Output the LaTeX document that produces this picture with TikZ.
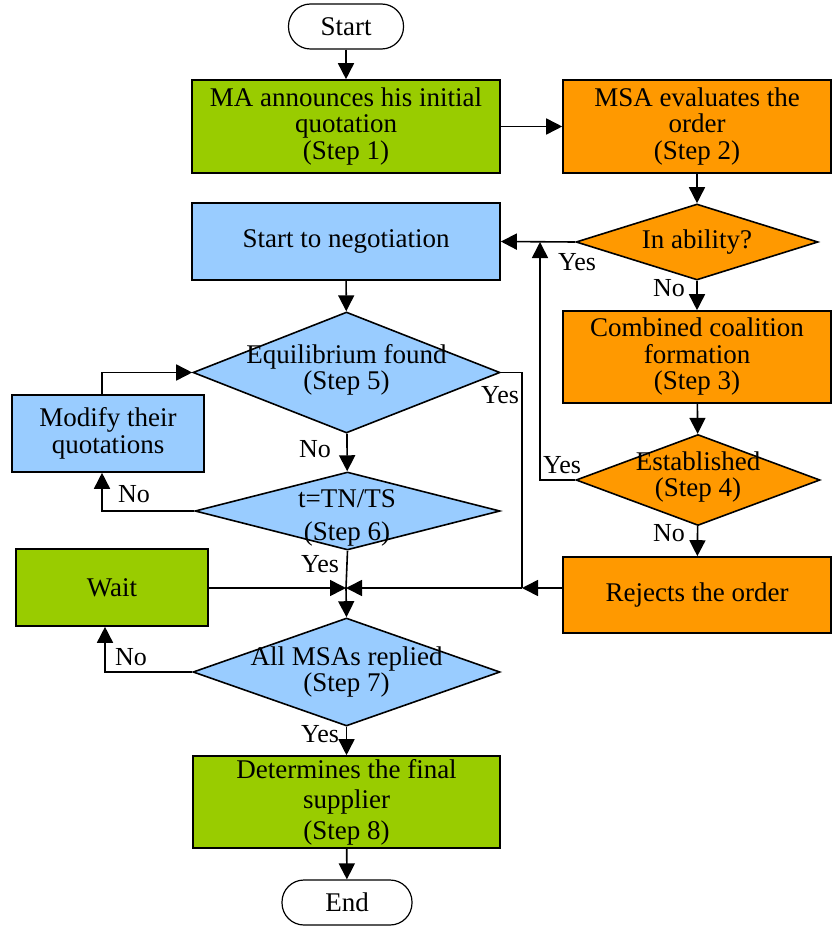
\documentclass[tikz,border=0pt]{standalone}
\usepackage{fontspec}
\setmainfont{Liberation Serif}
\usetikzlibrary{arrows.meta,shapes.geometric}

\definecolor{stepgreen}{HTML}{99CC00}
\definecolor{steporange}{HTML}{FF9900}
\definecolor{stepblue}{HTML}{99CCFF}

\tikzset{
  every node/.style={font=\fontsize{27}{26.5}\selectfont, inner sep=0pt},
  box/.style={draw, line width=1.6pt, rectangle, align=center},
  terminal/.style={draw, line width=1.2pt, rectangle, rounded corners=22pt, fill=white,
    minimum width=115pt, minimum height=45pt},
  dia/.style={draw, line width=1.6pt, diamond, minimum width=307pt, minimum height=121pt},
  txt/.style={align=center},
  lbl/.style={font=\fontsize{26}{26}\selectfont},
  conn/.style={line width=1.6pt},
  arr/.style={line width=1.6pt, -{Triangle[length=16pt,width=16pt]}},
}

\begin{document}
\begin{tikzpicture}[x=1pt,y=-1pt]
\useasboundingbox (0,0) rectangle (833,928);

% terminals
\node[terminal] (start) at (346,26.5) {Start};
\node[terminal, minimum width=130pt] (end) at (347,902.5) {End};

% process boxes
\node[box, fill=stepgreen, minimum width=308pt, minimum height=93pt] (s1) at (346,126.5)
  {MA announces his initial\\quotation\\(Step 1)};
\node[box, fill=steporange, minimum width=268pt, minimum height=93pt] (s2) at (697,126.5)
  {MSA evaluates the\\order\\(Step 2)};
\node[box, fill=stepblue, minimum width=308pt, minimum height=77pt] (neg) at (346,241.5)
  {Start to negotiation};
\node[box, fill=steporange, minimum width=268pt, minimum height=92pt] (s3) at (697,357)
  {Combined coalition\\formation\\(Step 3)};
\node[box, fill=steporange, minimum width=268pt, minimum height=76pt] (rej) at (697,595)
  {Rejects the order};
\node[box, fill=stepblue, minimum width=192pt, minimum height=77pt] (mod) at (108,433.5)
  {Modify their\\quotations};
\node[box, fill=stepgreen, minimum width=192pt, minimum height=77pt] (wait) at (112,587.5)
  {Wait};
\node[box, fill=stepgreen, minimum width=307pt, minimum height=92pt] (s8) at (346.5,802)
  {Determines the final\\[4pt]supplier\\[4pt](Step 8)};

% decisions
\node[dia, fill=steporange, minimum width=242pt, minimum height=76pt] (dab) at (697,242) {};
\node[txt] at (697,242) {In ability?};
\node[dia, fill=steporange, minimum width=244pt, minimum height=91pt] (s4) at (698,480) {};
\node[txt] at (698,477) {Established\\(Step 4)};
\node[dia, fill=stepblue] (s5) at (346.5,372.5) {};
\node[txt] at (346.5,370) {Equilibrium found\\(Step 5)};
\node[dia, fill=stepblue, minimum width=305pt, minimum height=78pt] (s6) at (347.5,511) {};
\node[txt] at (347,518) {t=TN/TS\\[6pt](Step 6)};
\node[dia, fill=stepblue, minimum height=108pt] (s7) at (346.5,672) {};
\node[txt] at (346.5,672) {All MSAs replied\\(Step 7)};

% junction points
\coordinate (ja) at (540,242);
\coordinate (jr) at (522,588);
\coordinate (jc) at (346,588);

% main flow
\draw[arr] (start) -- (s1);
\draw[arr] (s1) -- (s2);
\draw[arr] (s2) -- (dab);
\draw[arr] (dab.west) -- (neg.east);
\draw[arr] (dab) -- (s3);
\draw[arr] (s3) -- (s4);
\draw[arr] (s4.west) -| (ja);
\draw[arr] (s4) -- (rej);
\draw[arr] (rej.west |- jr) -- (jr);
\draw[arr] (jr) -- (jc);
\draw[arr] (neg) -- (s5);
\draw[conn] (s5.east) -| (jr);
\draw[arr] (s5) -- (s6);
\draw[arr] (s6.west) -| ([xshift=-6pt]mod.south);
\draw[arr] ([xshift=-6pt]mod.north) |- (s5.west);
\draw[conn] (s6.south) -- (jc);
\draw[arr] (wait.east |- jc) -- (jc);
\draw[arr] (jc) -- (s7.north);
\draw[arr] (s7.west) -| ([xshift=-7pt]wait.south);
\draw[arr] (s7) -- (s8);
\draw[arr] (s8) -- (end);

% branch labels
\node[lbl] at (577,262) {Yes};
\node[lbl] at (669,288) {No};
\node[lbl] at (562,465) {Yes};
\node[lbl] at (669,533) {No};
\node[lbl] at (500,395) {Yes};
\node[lbl] at (315,449) {No};
\node[lbl] at (134,494) {No};
\node[lbl] at (320,564) {Yes};
\node[lbl] at (131,657) {No};
\node[lbl] at (320,734) {Yes};
\end{tikzpicture}
\end{document}
